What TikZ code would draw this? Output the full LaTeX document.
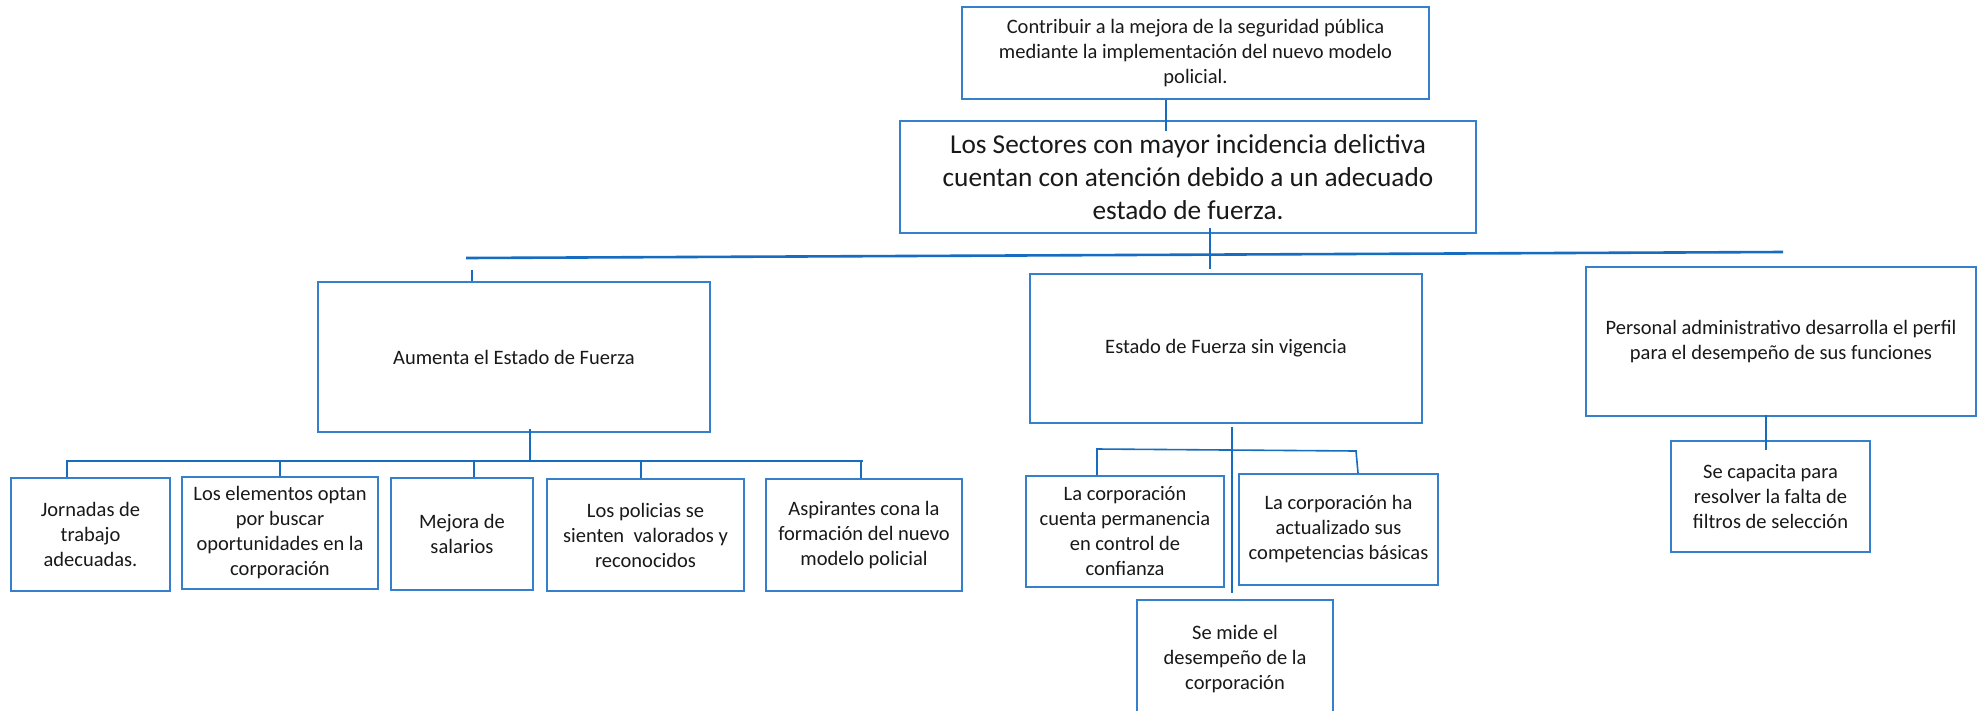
\documentclass[tikz,border=0pt]{standalone}
\usepackage{fontspec}
\setmainfont{Carlito}
\definecolor{boxblue}{RGB}{52,128,204}
\definecolor{lineblue}{RGB}{22,108,192}
\begin{document}
\begin{tikzpicture}[x=1pt,y=-1pt,
  box/.style={draw=boxblue,line width=1.6pt,fill=white,inner sep=0pt,align=center,
    font=\fontsize{20.5}{25}\selectfont,text=black!90},
  bigbox/.style={box,font=\fontsize{27.3}{33.3}\selectfont},
  ln/.style={draw=lineblue,line width=1.6pt},
  thickln/.style={draw=lineblue,line width=2.6pt}]
\useasboundingbox[fill=white] (0,0) rectangle (1980,710);

% nodes
\node[box,minimum width=467pt,minimum height=92pt] (obj) at (1195.5,53)
  {Contribuir a la mejora de la seguridad pública\\mediante la implementación del nuevo modelo\\policial.};
\node[bigbox,minimum width=576pt,minimum height=112pt] (sect) at (1188,177)
  {Los Sectores con mayor incidencia delictiva\\cuentan con atención debido a un adecuado\\estado de fuerza.};
\node[box,minimum width=392pt,minimum height=150pt] (aum) at (514,357) {Aumenta el Estado de Fuerza};
\node[box,minimum width=392pt,minimum height=149pt] (est) at (1226,348.5) {Estado de Fuerza sin vigencia};
\node[box,minimum width=390pt,minimum height=149pt] (pers) at (1781,341.5)
  {Personal administrativo desarrolla el perfil\\para el desempeño de sus funciones};

\node[box,minimum width=159pt,minimum height=113pt] (jor) at (90.5,534.5) {Jornadas de\\trabajo\\adecuadas.};
\node[box,minimum width=196pt,minimum height=112pt] (ele) at (280,533) {Los elementos optan\\por buscar\\oportunidades en la\\corporación};
\node[box,minimum width=142pt,minimum height=112pt] (mej) at (462,534) {Mejora de\\salarios};
\node[box,minimum width=197pt,minimum height=112pt] (pol) at (645.5,535) {Los policias se\\sienten\ \ valorados y\\reconocidos};
\node[box,minimum width=196pt,minimum height=112pt] (asp) at (864,535) {Aspirantes cona la\\formación del nuevo\\modelo policial};

\node[box,minimum width=198pt,minimum height=111pt] (cor1) at (1125,531.5) {La corporación\\cuenta permanencia\\en control de\\confianza};
\node[box,minimum width=199pt,minimum height=111pt] (cor2) at (1338.5,529.5) {La corporación ha\\actualizado sus\\competencias básicas};
\node[box,minimum width=196pt,minimum height=118pt] (mide) at (1235,659) {Se mide el\\desempeño de la\\corporación};
\node[box,minimum width=199pt,minimum height=111pt] (cap) at (1770.5,496.5) {Se capacita para\\resolver la falta de\\filtros de selección};

% connector coordinates
\coordinate (c1) at (1166,131);
\coordinate (bl) at (466,258);
\coordinate (br) at (1783,252);
\coordinate (s1) at (1210,269);
\coordinate (t1) at (472,270);
\coordinate (a0) at (530,461);
\coordinate (hl) at (66,461);
\coordinate (hr) at (863,461);
\coordinate (k1) at (67,461);
\coordinate (k2) at (280,461);
\coordinate (k3) at (474,461);
\coordinate (k4) at (641,461);
\coordinate (k5) at (861,461);
\coordinate (e0) at (1232,593);
\coordinate (el) at (1097,449);
\coordinate (er) at (1356,451);
\coordinate (er2) at (1358,473);
\coordinate (p2) at (1766,450);

% connectors
\draw[ln] (c1 |- obj.south) -- (c1);
\draw[thickln] (bl) -- (br);
\draw[ln] ([yshift=6pt]s1 |- sect.south) -- (s1);
\draw[ln] (t1) -- (t1 |- aum.north);
\draw[ln] ([yshift=4pt]a0 |- aum.south) -- (a0);
\draw[thickln] (hl) -- (hr);
\foreach \k/\n in {k1/jor,k2/ele,k3/mej,k4/pol,k5/asp}
  \draw[ln] (\k) -- (\k |- \n.north);
\draw[ln] ([yshift=-3pt]e0 |- est.south) -- (e0);
\draw[ln] (el |- cor1.north) -- (el) -- (er) -- (er2);
\draw[ln] ([yshift=2pt]p2 |- pers.south) -- (p2);
\end{tikzpicture}
\end{document}
